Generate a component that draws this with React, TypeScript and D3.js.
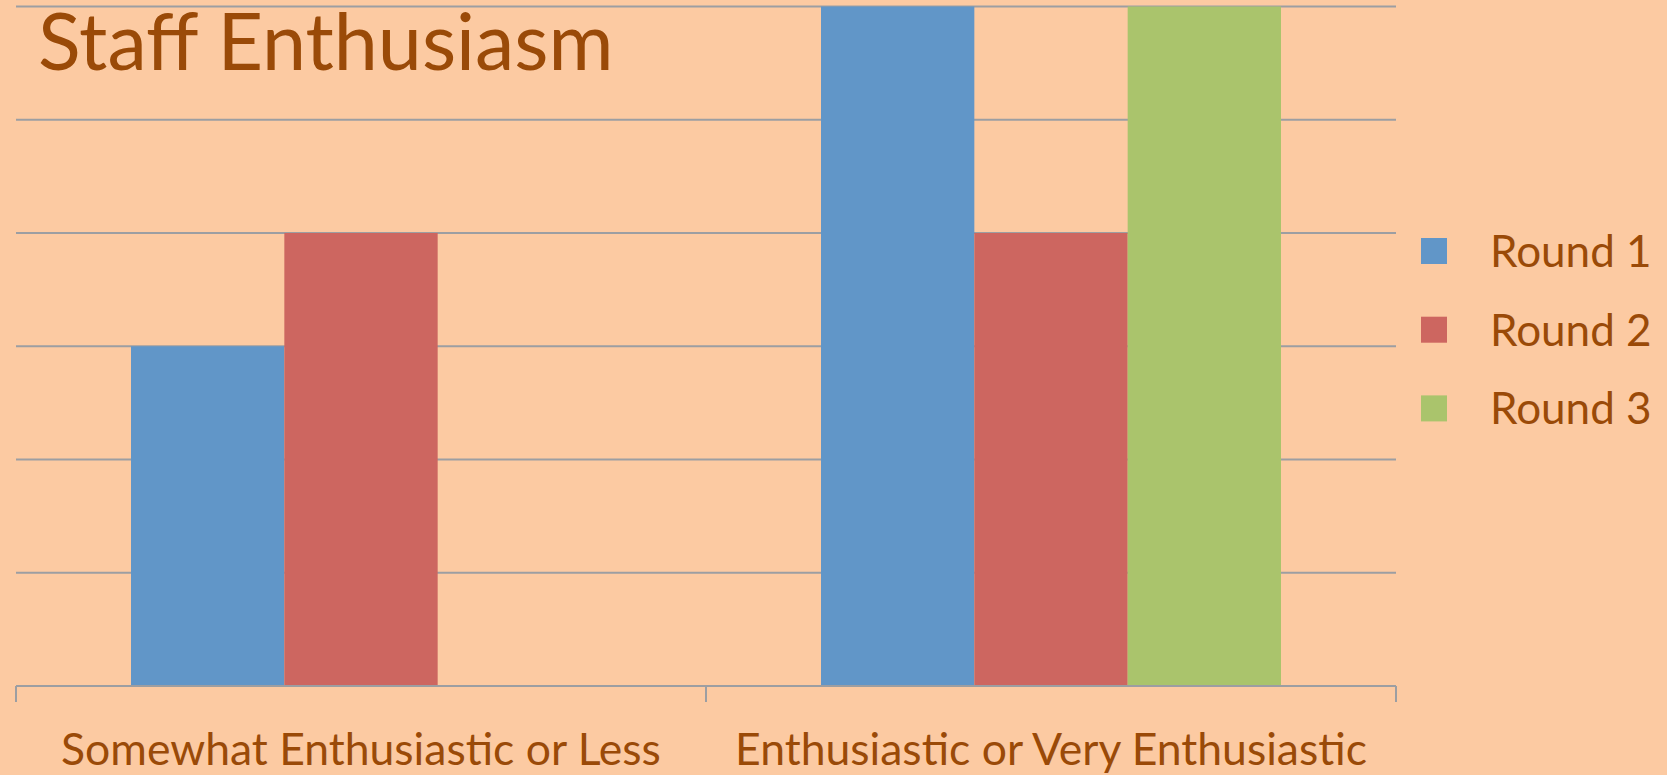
import React from "react";
import * as d3 from "d3";

const categories = ["Somewhat Enthusiastic or Less", "Enthusiastic or Very Enthusiastic"];
const seriesNames = ["Round 1", "Round 2", "Round 3"];
const round1 = [3, 6];
const round2 = [4, 4];
const round3 = [0, 6];
const seriesColors = ["#6196C8", "#CD6660", "#AAC46C"];
const yTicks = [0, 1, 2, 3, 4, 5, 6];

const W = 1667;
const H = 775;
const plot = { left: 16, right: 1396, top: 6.5, bottom: 686 };
const textColor = "#9A4A08";
const font = "Lato, 'Open Sans', sans-serif";

export default function App() {
  const series = [round1, round2, round3];

  const x0 = d3.scaleBand<string>().domain(categories).range([plot.left, plot.right]).paddingInner(0).paddingOuter(0);
  // Excel-like gap width of 150% of a bar: 3 bars + 1.5 bar gap per category
  const barW = x0.bandwidth() / (seriesNames.length + 1.5);
  const y = d3.scaleLinear().domain([0, 6]).range([plot.bottom, plot.top]);

  const tickXs = [...categories.map((c) => x0(c) as number), plot.right];

  return (
    <svg width={W} height={H} style={{ position: "absolute", left: 0, top: 0, display: "block" }}>
      <rect x={0} y={0} width={W} height={H} fill="#FCCAA2" />

      {yTicks.filter((t) => t > 0).map((t) => (
        <line key={t} x1={plot.left} x2={plot.right} y1={y(t)} y2={y(t)} stroke="#9C9EA2" strokeWidth={2} />
      ))}

      {categories.map((c, ci) => {
        const cx = (x0(c) as number) + x0.bandwidth() / 2;
        const start = cx - (barW * seriesNames.length) / 2;
        return series.map((s, si) => {
          const v = s[ci];
          if (v <= 0) return null;
          return (
            <rect
              key={`${ci}-${si}`}
              x={start + si * barW}
              y={y(v)}
              width={barW}
              height={y(0) - y(v)}
              fill={seriesColors[si]}
            />
          );
        });
      })}

      <line x1={plot.left} x2={plot.right} y1={plot.bottom} y2={plot.bottom} stroke="#9C9EA2" strokeWidth={2} />
      {tickXs.map((tx, i) => (
        <line key={i} x1={tx} x2={tx} y1={plot.bottom} y2={plot.bottom + 16} stroke="#9C9EA2" strokeWidth={2} />
      ))}

      {categories.map((c) => (
        <text
          key={c}
          x={(x0(c) as number) + x0.bandwidth() / 2}
          y={765}
          textAnchor="middle"
          fontFamily={font}
          fontSize={44.5}
          fill={textColor}
        >
          {c}
        </text>
      ))}

      <text x={38} y={70} fontFamily={font} fontSize={79} fill={textColor}>
        Staff Enthusiasm
      </text>

      {seriesNames.map((name, i) => {
        const cy = 251 + i * 78.7;
        return (
          <g key={name}>
            <rect x={1421} y={cy - 13} width={26} height={26} fill={seriesColors[i]} />
            <text x={1490} y={cy + 16} fontFamily={font} fontSize={44} fill={textColor}>
              {name}
            </text>
          </g>
        );
      })}
    </svg>
  );
}
